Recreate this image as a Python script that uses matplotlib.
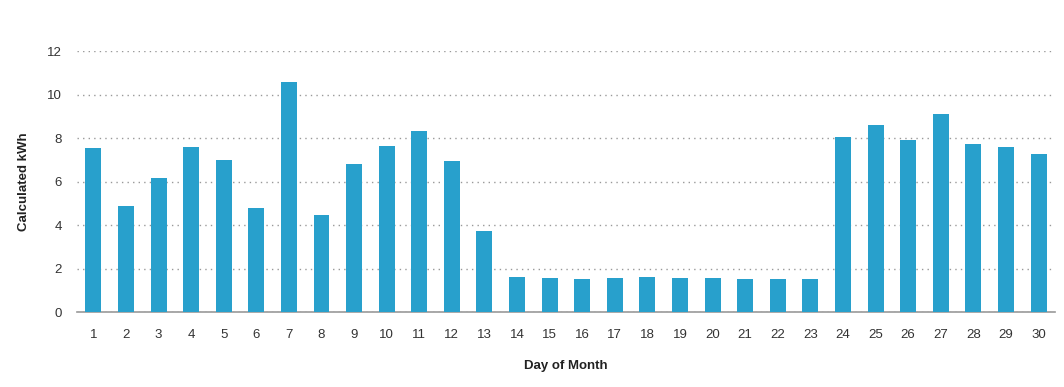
import matplotlib.pyplot as plt

days = list(range(1, 31))
kwh = [7.56, 4.89, 6.18, 7.60, 7.00, 4.80, 10.59, 4.48, 6.82, 7.65,
       8.34, 6.96, 3.74, 1.62, 1.58, 1.53, 1.58, 1.62, 1.58, 1.58,
       1.53, 1.53, 1.53, 8.06, 8.61, 7.92, 9.12, 7.74, 7.60, 7.28]

plt.rcParams['font.family'] = ['Liberation Sans', 'DejaVu Sans']

fig = plt.figure(figsize=(10.64, 3.87), dpi=100)
ax = fig.add_axes([0.0724, 0.193, 0.919, 0.675])

ax.bar(days, kwh, width=0.49, color='#28a0cc', zorder=3)

ax.set_xlim(0.5, 30.5)
ax.set_ylim(0, 12)
ax.set_xticks(days)
ax.set_yticks(range(0, 13, 2))
ax.yaxis.grid(True, linestyle=(0, (1, 3)), color='#999999', linewidth=1)
ax.set_axisbelow(True)

for side in ['top', 'right', 'left']:
    ax.spines[side].set_visible(False)
ax.spines['bottom'].set_color('#999999')
ax.spines['bottom'].set_linewidth(1.2)
ax.tick_params(axis='both', length=0, labelsize=9.5, colors='#333333')
ax.tick_params(axis='x', pad=12)
ax.tick_params(axis='y', pad=11)

ax.set_xlabel('Day of Month', fontsize=9.5, fontweight='bold', color='#222222', labelpad=13.8)
ax.set_ylabel('Calculated kWh', fontsize=9.5, fontweight='bold', color='#222222', labelpad=11.8)

plt.savefig('out.png')
